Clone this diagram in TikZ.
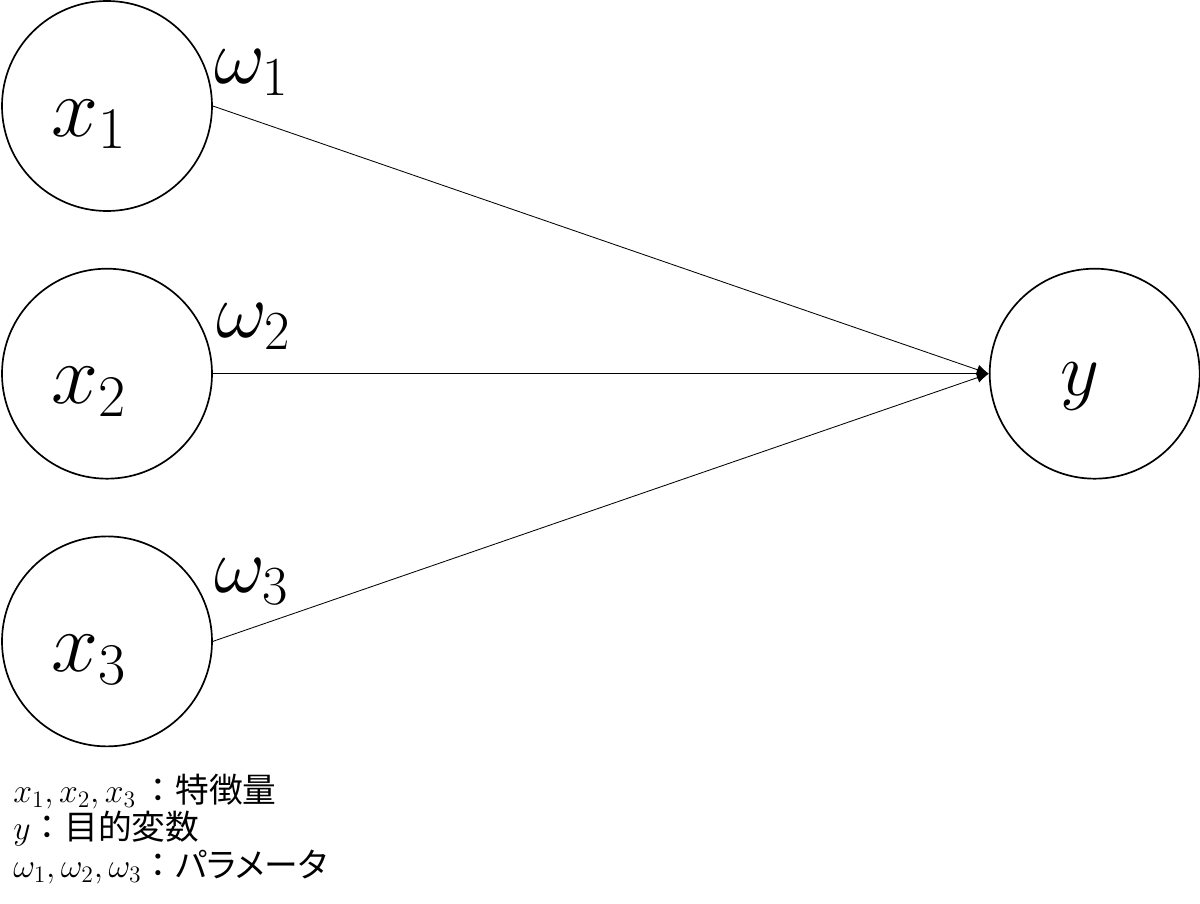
\documentclass[tikz,border=0pt]{standalone}
\usepackage{fix-cm}
\usepackage{fontspec}
\newfontfamily\jp{Noto Sans CJK JP}
\newfontfamily\jpkana[RawFeature=+palt]{Noto Sans CJK JP}
\usetikzlibrary{arrows.meta,positioning}

\begin{document}
\begin{tikzpicture}[
	node distance=1.4cm,
	kreis/.style={
		circle,
		draw,
		line width=1.2pt,
		minimum size=5.25cm,
		inner sep=0pt,
		font=\fontsize{60}{64}\selectfont,
		text height=1.5cm,
		text depth=0pt
	},
	gewicht/.style={
		anchor=base west,
		inner sep=0pt,
		font=\fontsize{56}{60}\selectfont
	},
	pfeil/.style={
		line width=0.6pt,
		-{Latex[length=3mm,width=2.6mm]}
	}
]
\useasboundingbox (0,0) rectangle (30,-22.575);

\node[kreis] (X1) at (2.675,-2.65) {$x_1$\hspace*{0.9cm}};
\node[kreis] (X2) [below=of X1] {$x_2$\hspace*{0.9cm}};
\node[kreis] (X3) [below=of X2] {$x_3$\hspace*{0.9cm}};

\node[kreis, font=\fontsize{54}{58}\selectfont, text height=1.1cm] (Y) [right=19.4cm of X2] {$y$\hspace*{0.75cm}};

\node (W1) [above right=0.55cm and 0.03cm of X1.east, gewicht] {$\omega_1$};
\node (W2) [above right=0.9cm and 0.08cm of X2.east, gewicht] {$\omega_2$};
\node (W3) [above right=1.22cm and 0.03cm of X3.east, gewicht] {$\omega_3$};

\draw[pfeil] (X1.east) -- (Y.west);
\draw[pfeil] (X2.east) -- (Y.west);
\draw[pfeil] (X3.east) -- (Y.west);

\node[anchor=north west, align=left, inner sep=0pt,
	font=\fontsize{24}{26.5}\selectfont] (LEG) at (0.325,-19.35)
{$x_1, x_2, x_3$\,{\jp ：特徴量}\\
$y${\jp ：目的変数}\\
$\omega_1, \omega_2, \omega_3${\jp ：}{\jpkana パラメータ}};

\end{tikzpicture}
\end{document}
